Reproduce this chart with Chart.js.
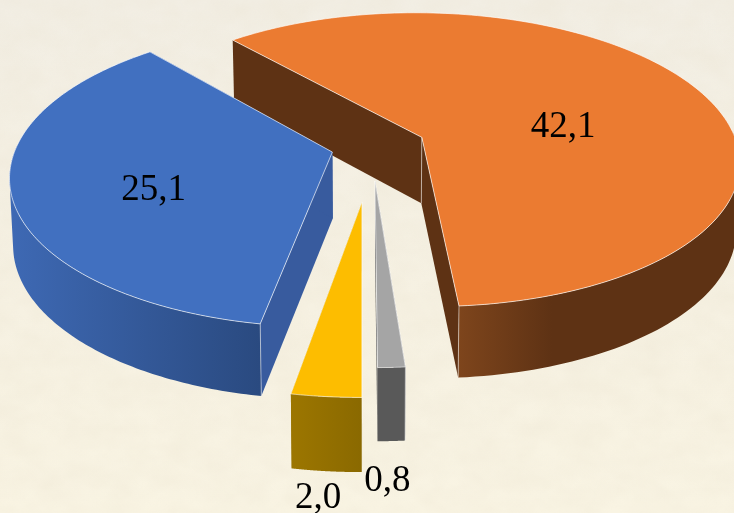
<!DOCTYPE html>
<html>
<head>
<meta charset="utf-8">
<style>
html, body { margin: 0; padding: 0; width: 734px; height: 513px; overflow: hidden; background: #f5efe0; }
#paper { position: absolute; left: 0; top: 0; width: 734px; height: 513px; }
#myPieChart { position: absolute; left: 0; top: 0; }
</style>
</head>
<body>
<svg id="paper" width="734" height="513" xmlns="http://www.w3.org/2000/svg">
  <defs>
    <filter id="mottle" x="0" y="0" width="100%" height="100%">
      <feTurbulence type="fractalNoise" baseFrequency="0.03 0.045" numOctaves="3" seed="7"/>
      <feColorMatrix type="matrix" values="0 0 0 0 0.82  0 0 0 0 0.76  0 0 0 0 0.62  0.9 0.5 0 0 -0.42"/>
    </filter>
    <linearGradient id="wash" x1="0" y1="0" x2="0" y2="1">
      <stop offset="0" stop-color="#f2eee4"/>
      <stop offset="0.6" stop-color="#f6f1e2"/>
      <stop offset="1" stop-color="#f9f4e3"/>
    </linearGradient>
  </defs>
  <rect width="734" height="513" fill="url(#wash)"/>
  <rect width="734" height="513" filter="url(#mottle)" opacity="0.4"/>
</svg>
<canvas id="myPieChart" width="734" height="513"></canvas>
<script src="https://cdn.jsdelivr.net/npm/chart.js@4/dist/chart.umd.min.js"></script>
<script>
// values
var values = [25.1, 42.1, 0.8, 2.0];
var labels = ["25,1", "42,1", "0,8", "2,0"];

var topColors = ["#4170c0", "#eb7b31", "#a5a5a5", "#fdbd00"];
var sideColors = ["#385b9e", "#5e3214", "#595959", "#8f6c00"];
var wallStart = ["#3e69b4", "#5e3214", "#595959", "#9c7600"];
var wallEnd = ["#2a4a80", "#7e451c", "#595959", "#8a6900"];
var explode = [45, 60, 78, 124];

// tilt and perspective of the pie
var tilt = 0.463, persp = 0.00044, zoom = 0.909;

function project(c, gx, gy) {
    var s = zoom / (1 - persp * gy);
    return { x: c.x + gx * s, y: c.y + tilt * gy * s, s: s };
}

function drop(c, p) {
    return { x: c.x + (p.x - c.x) * 0.99, y: p.y + 66 + (p.s - 0.9) * 35 };
}

function outline(ctx, pts, close) {
    ctx.beginPath();
    pts.forEach(function (p, i) {
        if (i == 0) ctx.moveTo(p.x, p.y); else ctx.lineTo(p.x, p.y);
    });
    if (close) ctx.closePath();
}

// adds a quad to the current path, always wound the same way so one fill has no seams
function addQuad(ctx, q) {
    var area = 0;
    for (var i = 0; i < 4; i++) {
        var j = (i + 1) % 4;
        area += q[i].x * q[j].y - q[j].x * q[i].y;
    }
    if (area < 0) q = q.slice().reverse();
    ctx.moveTo(q[0].x, q[0].y);
    ctx.lineTo(q[1].x, q[1].y);
    ctx.lineTo(q[2].x, q[2].y);
    ctx.lineTo(q[3].x, q[3].y);
    ctx.closePath();
}

var pie3d = {
    id: "pie3d",
    beforeDatasetsDraw: function (chart, args, opts) {
        var ctx = chart.ctx;
        var arcs = chart.getDatasetMeta(0).data;
        var order = arcs.map(function (el, i) { return i; });

        function geom(i) {
            var el = arcs[i];
            var mid = (el.startAngle + el.endAngle) / 2;
            return {
                ax: Math.cos(mid) * el.options.offset,
                ay: Math.sin(mid) * el.options.offset,
                mid: mid, el: el, c: { x: el.x, y: el.y }
            };
        }

        order.sort(function (a, b) {
            return Math.sin(geom(a).mid) - Math.sin(geom(b).mid);
        });

        ctx.save();
        ctx.lineJoin = "round";
        order.forEach(function (i) {
            var g = geom(i), el = g.el, c = g.c, r = el.outerRadius;
            var apex = project(c, g.ax, g.ay);
            var rim = [], rimAngle = [];
            for (var n = 0; n <= 160; n++) {
                var a = el.startAngle + (el.endAngle - el.startAngle) * n / 160;
                rimAngle.push(a);
                rim.push(project(c, g.ax + Math.cos(a) * r, g.ay + Math.sin(a) * r));
            }
            var rimLow = rim.map(function (p) { return drop(c, p); });
            var apexLow = drop(c, apex);

            // straight walls from the centre out
            ctx.fillStyle = sideColors[i];
            [rim[0], rim[rim.length - 1]].forEach(function (p) {
                outline(ctx, [apex, p, drop(c, p), apexLow], true);
                ctx.fill();
            });

            // curved wall, front half only
            var front = rim.filter(function (p, n) { return Math.sin(rimAngle[n]) > -0.05; });
            var xs = front.map(function (p) { return p.x; });
            var grad = ctx.createLinearGradient(Math.min.apply(null, xs), 0, Math.max.apply(null, xs), 0);
            if (i == 1) {
                grad = ctx.createLinearGradient(apex.x + 36, 0, apex.x + 130, 0);
                grad.addColorStop(0, wallEnd[i]);
                grad.addColorStop(1, wallStart[i]);
            } else {
                grad.addColorStop(0, wallStart[i]);
                grad.addColorStop(1, wallEnd[i]);
            }
            ctx.fillStyle = grad;
            ctx.beginPath();
            for (var m = 0; m < 160; m++) {
                if (Math.sin(rimAngle[m]) <= -0.05) continue;
                addQuad(ctx, [rim[m], rim[m + 1], rimLow[m + 1], rimLow[m]]);
            }
            ctx.fill("nonzero");

            // top
            ctx.fillStyle = topColors[i];
            outline(ctx, [apex].concat(rim), true);
            ctx.fill();
            ctx.strokeStyle = "rgba(255,255,255,0.65)";
            ctx.lineWidth = 1;
            outline(ctx, [apex].concat(rim), true);
            ctx.stroke();

            // corner lines of the walls
            ctx.strokeStyle = "rgba(255,255,255,0.5)";
            if (i != 1) {
                outline(ctx, [rim[0], rimLow[0]], false);
                ctx.stroke();
            } else {
                outline(ctx, [rim[rim.length - 1], rimLow[rim.length - 1]], false);
                ctx.stroke();
                outline(ctx, [apex, apexLow], false);
                ctx.stroke();
            }
        });

        // value labels
        ctx.fillStyle = "#000";
        ctx.font = "37px 'Liberation Serif', 'Times New Roman', serif";
        ctx.textAlign = "center";
        ctx.textBaseline = "alphabetic";
        arcs.forEach(function (el, i) {
            var g = geom(i), lp = opts.labelAt[i];
            var p = project(g.c, g.ax + Math.cos(g.mid) * el.outerRadius * lp[0], g.ay + Math.sin(g.mid) * el.outerRadius * lp[0]);
            ctx.fillText(labels[i], p.x + lp[1], p.y + lp[2]);
        });
        ctx.restore();
        return false;
    }
};

var canvasPie = document.getElementById("myPieChart");
var myPieChart = new Chart(canvasPie, {
    type: "pie",
    data: {
        labels: labels,
        datasets: [{
            data: values,
            backgroundColor: topColors,
            borderWidth: 0,
            offset: explode
        }]
    },
    options: {
        responsive: false,
        animation: false,
        rotation: 190,
        radius: 348,
        layout: { padding: { left: 10, bottom: 219 } },
        plugins: {
            legend: { display: false },
            tooltip: { enabled: false },
            pie3d: { labelAt: [[0.57, 1, 25], [0.52, -3, 28], [1, -4, 124], [1, -8, 111]] }
        }
    },
    plugins: [pie3d]
});
</script>
</body>
</html>
